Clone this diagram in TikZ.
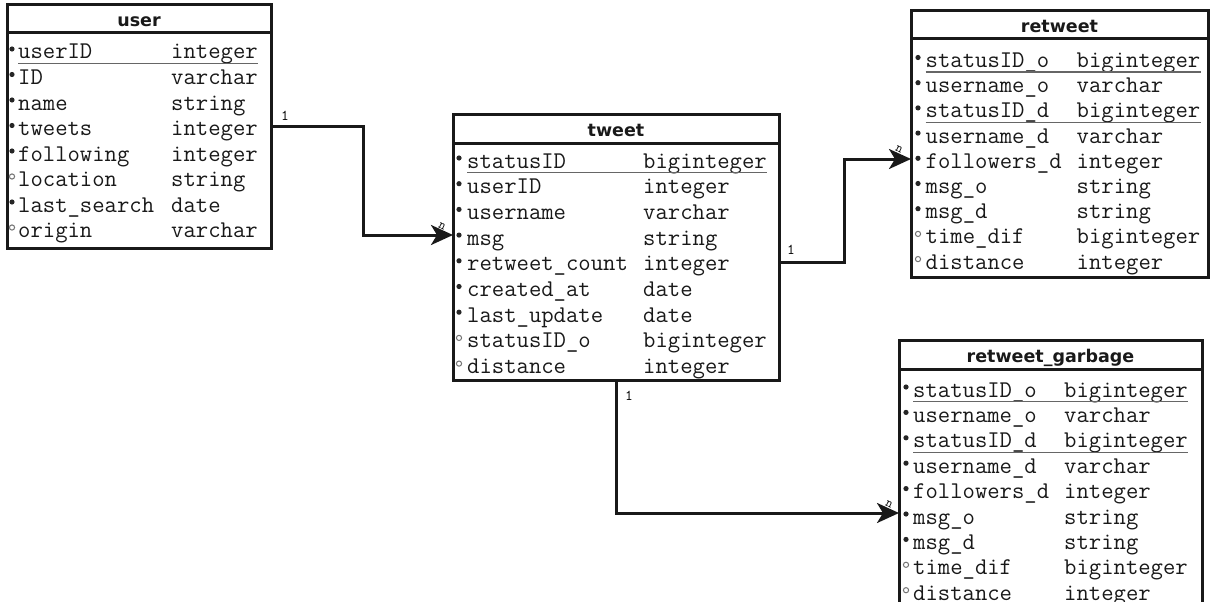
\documentclass[tikz,border=0pt]{standalone}
\usepackage{fontspec}
\newfontfamily\hdrfont{DejaVu Sans}
\usetikzlibrary{arrows.meta}
\tikzset{
  tbl/.style={draw=black!90, line width=3pt, fill=white, inner sep=0pt, outer sep=0pt},
  sep/.style={draw=black!90, line width=3pt},
  hdr/.style={font=\hdrfont\bfseries\fontsize{17.5}{19}\selectfont, inner sep=0pt, anchor=base, text=black!90},
  fld/.style={font=\ttfamily\fontsize{24}{25}\selectfont, inner sep=0pt, anchor=base west, text=black!90},
  pkline/.style={draw=black!60, line width=1.4pt},
  req/.style={fill=black!85},
  opt/.style={draw=black!55, line width=1pt, fill=white},
  conn/.style={draw=black!90, line width=3pt, -{Stealth[length=22pt,width=20pt,inset=6pt]}},
  card/.style={font=\ttfamily\fontsize{15}{16}\selectfont, inner sep=0pt},
  cardn/.style={font=\ttfamily\fontsize{13}{14}\selectfont, inner sep=0pt, rotate=-25},
}
\begin{document}
\begin{tikzpicture}[x=1pt,y=-1pt]
\useasboundingbox (0,0) rectangle (1215,602);
\clip (0,0) rectangle (1215,602);

% ---------- user ----------
\node[tbl, minimum width=264pt, minimum height=243pt] (user) at (139,126.5) {};
\draw[sep] (user.west |- 0,33) -- (user.east |- 0,33);
\node[hdr] (user-h) at (139,27) {user};
\foreach \fn/\ft/\fk [count=\i from 0] in {userID/integer/2, ID/varchar/0, name/string/0, tweets/integer/0, following/integer/0, location/string/1, last\_search/date/0, origin/varchar/1}{
  \pgfmathsetmacro\yb{59+25.5*\i}
  \node[fld] (user-n\i) at (18,\yb) {\fn};
  \node[fld] (user-t\i) at (171,\yb) {\ft};
  \ifnum\fk=1 \draw[opt] (12,{\yb-10}) circle (2.6pt); \else \fill[req] (12,{\yb-10}) circle (2.6pt); \fi
  \ifnum\fk=2 \draw[pkline] ([yshift=-4.5pt]user-n\i.base west) -- ([yshift=-4.5pt]user-t\i.base east); \fi
}

% ---------- tweet ----------
\node[tbl, minimum width=326pt, minimum height=266pt] (tweet) at (616,247) {};
\draw[sep] (tweet.west |- 0,143) -- (tweet.east |- 0,143);
\node[hdr] (tweet-h) at (616,136) {tweet};
\foreach \fn/\ft/\fk [count=\i from 0] in {statusID/biginteger/2, userID/integer/0, username/varchar/0, msg/string/0, retweet\_count/integer/0, created\_at/date/0, last\_update/date/0, statusID\_o/biginteger/1, distance/integer/1}{
  \pgfmathsetmacro\yb{168+25.7*\i}
  \node[fld] (tweet-n\i) at (467,\yb) {\fn};
  \node[fld] (tweet-t\i) at (643,\yb) {\ft};
  \ifnum\fk=1 \draw[opt] (459,{\yb-10}) circle (2.6pt); \else \fill[req] (459,{\yb-10}) circle (2.6pt); \fi
  \ifnum\fk=2 \draw[pkline] ([yshift=-4.5pt]tweet-n\i.base west) -- ([yshift=-4.5pt]tweet-t\i.base east); \fi
}

% ---------- retweet ----------
\node[tbl, minimum width=297pt, minimum height=266pt] (retweet) at (1059.5,144) {};
\draw[sep] (retweet.west |- 0,39) -- (retweet.east |- 0,39);
\node[hdr] (retweet-h) at (1059.5,33) {retweet};
\foreach \fn/\ft/\fk [count=\i from 0] in {statusID\_o/biginteger/2, username\_o/varchar/0, statusID\_d/biginteger/2, username\_d/varchar/0, followers\_d/integer/0, msg\_o/string/0, msg\_d/string/0, time\_dif/biginteger/1, distance/integer/1}{
  \pgfmathsetmacro\yb{67.5+25.2*\i}
  \node[fld] (rt-n\i) at (925.5,\yb) {\fn};
  \node[fld] (rt-t\i) at (1076.5,\yb) {\ft};
  \ifnum\fk=1 \draw[opt] (918,{\yb-10}) circle (2.6pt); \else \fill[req] (918,{\yb-10}) circle (2.6pt); \fi
  \ifnum\fk=2 \draw[pkline] ([yshift=-4.5pt]rt-n\i.base west) -- ([yshift=-4.5pt]rt-t\i.base east); \fi
}

% ---------- retweet_garbage ----------
\node[tbl, minimum width=303pt, minimum height=280pt] (rg) at (1050.5,480) {};
\draw[sep] (rg.west |- 0,369) -- (rg.east |- 0,369);
\node[hdr] (rg-h) at (1050.5,362) {retweet\_garbage};
\foreach \fn/\ft/\fk [count=\i from 0] in {statusID\_o/biginteger/2, username\_o/varchar/0, statusID\_d/biginteger/2, username\_d/varchar/0, followers\_d/integer/0, msg\_o/string/0, msg\_d/string/0, time\_dif/biginteger/1, distance/integer/1}{
  \pgfmathsetmacro\yb{397+25.4*\i}
  \node[fld] (rg-n\i) at (913,\yb) {\fn};
  \node[fld] (rg-t\i) at (1064,\yb) {\ft};
  \ifnum\fk=1 \draw[opt] (906,{\yb-10}) circle (2.6pt); \else \fill[req] (906,{\yb-10}) circle (2.6pt); \fi
  \ifnum\fk=2 \draw[pkline] ([yshift=-4.5pt]rg-n\i.base west) -- ([yshift=-4.5pt]rg-t\i.base east); \fi
}

% ---------- connectors ----------
\coordinate (b1) at (363,235);
\draw[conn] (user.east) -| (b1) -- (tweet.west |- b1);
\node[card] (c1a) at (285,116) {1};
\node[cardn] (c1b) at (442,226) {n};

\coordinate (s2) at (0,262);
\coordinate (b2) at (844,159);
\draw[conn] (tweet.east |- s2) -| (b2) -- (retweet.west |- b2);
\node[card] (c2a) at (791,250) {1};
\node[cardn] (c2b) at (899,149) {n};

\coordinate (b3) at (616,513);
\draw[conn] (tweet.south -| b3) |- (rg.west |- b3);
\node[card] (c3a) at (629,396) {1};
\node[cardn] (c3b) at (889,504) {n};
\end{tikzpicture}
\end{document}
